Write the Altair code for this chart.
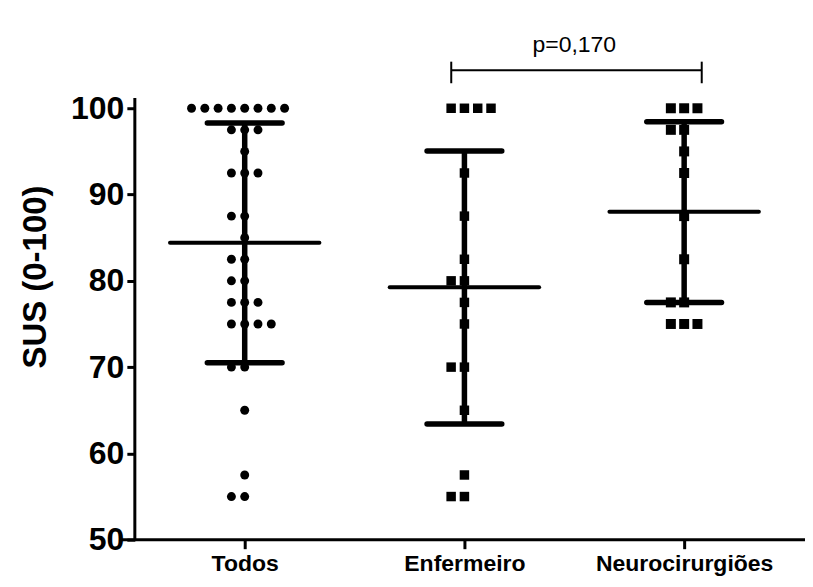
import json
import altair as alt
import pandas as pd

categories = ["Todos", "Enfermeiro", "Neurocirurgiões"]

todos = [100, 100, 100, 100, 100, 100, 100, 100,
         97.5, 97.5, 97.5, 95, 92.5, 92.5, 92.5, 87.5, 87.5, 85,
         82.5, 82.5, 80, 80, 77.5, 77.5, 77.5, 75, 75, 75, 75,
         70, 70, 65, 57.5, 55, 55]
enfermeiro = [100, 100, 100, 100, 92.5, 87.5, 82.5, 80, 80, 77.5, 75,
              70, 70, 65, 57.5, 55, 55]
neuro = [100, 100, 100, 97.5, 97.5, 95, 92.5, 87.5, 82.5,
         77.5, 77.5, 75, 75, 75]

means = [84.4, 79.25, 88.0]
sd_upper = [98.3, 95.05, 98.45]
sd_lower = [70.5, 63.4, 77.5]

p_label = "p=0,170"

# --- build tables -------------------------------------------------------
order = [0, -1, 1, 2, -2, 3, -3, -4, 4]
step = 0.0605
rows = []
for gi, (name, vals) in enumerate(zip(categories, [todos, enfermeiro, neuro])):
    seen = {}
    for v in vals:
        k = seen.get(v, 0)
        seen[v] = k + 1
        rows.append({"group": name, "value": v,
                     "x": gi + 1 + order[k] * step})
pts = pd.DataFrame(rows)

summ = pd.DataFrame({
    "group": categories,
    "idx": [1, 2, 3],
    "mean": means,
    "lo": sd_lower,
    "hi": sd_upper,
})
summ["m0"] = summ["idx"] - 0.34
summ["m1"] = summ["idx"] + 0.34
summ["c0"] = summ["idx"] - 0.17
summ["c1"] = summ["idx"] + 0.17

xscale = alt.Scale(domain=[0.5, 3.55], nice=False, zero=False)
yscale = alt.Scale(domain=[50, 111], nice=False, zero=False)

label_expr = json.dumps(categories) + "[datum.value - 1]"

xaxis = alt.Axis(values=[1, 2, 3], labelExpr=label_expr, title=None,
                 domain=False, grid=False, tickSize=9, tickWidth=3,
                 tickColor="black", labelColor="black",
                 labelFont="Liberation Sans", labelFontWeight="bold",
                 labelFontSize=23, labelPadding=4)
yaxis = alt.Axis(values=[50, 60, 70, 80, 90, 100], title="SUS (0-100)",
                 domain=False, grid=False, tickSize=8, tickWidth=3,
                 tickColor="black", labelColor="black",
                 labelFont="Liberation Sans", labelFontWeight="bold",
                 labelFontSize=32, labelPadding=3,
                 titleFont="Liberation Sans", titleFontWeight="bold",
                 titleFontSize=33, titleColor="black", titlePadding=18)

base_pts = alt.Chart(pts)
points = base_pts.mark_point(filled=True, opacity=1, color="black").encode(
    x=alt.X("x:Q", scale=xscale, axis=xaxis),
    y=alt.Y("value:Q", scale=yscale, axis=yaxis),
    shape=alt.Shape("group:N", scale=alt.Scale(domain=categories,
                    range=["circle", "square", "square"]), legend=None),
    size=alt.Size("group:N", scale=alt.Scale(domain=categories,
                  range=[80, 100, 100]), legend=None),
)

sb = alt.Chart(summ)
vert = sb.mark_rule(color="black", strokeWidth=5.5).encode(
    x="idx:Q", y="lo:Q", y2="hi:Q")
cap_hi = sb.mark_rule(color="black", strokeWidth=5.5, strokeCap="round").encode(
    x="c0:Q", x2="c1:Q", y="hi:Q")
cap_lo = sb.mark_rule(color="black", strokeWidth=5.5, strokeCap="round").encode(
    x="c0:Q", x2="c1:Q", y="lo:Q")
mean_line = sb.mark_rule(color="black", strokeWidth=4, strokeCap="round").encode(
    x="m0:Q", x2="m1:Q", y="mean:Q")

# axis lines
ax_df = pd.DataFrame({"x0": [0.5, 0.44], "x1": [0.5, 3.62],
                      "y0": [50, 50], "y1": [101.2, 50]})
axes = alt.Chart(ax_df).mark_rule(color="black", strokeWidth=3).encode(
    x="x0:Q", x2="x1:Q", y="y0:Q", y2="y1:Q")

# significance bracket
br_df = pd.DataFrame({"x0": [1.94, 1.94, 3.08], "x1": [3.08, 1.94, 3.08],
                      "y0": [104.4, 102.9, 102.9], "y1": [104.4, 105.4, 105.4]})
bracket = alt.Chart(br_df).mark_rule(color="black", strokeWidth=2).encode(
    x="x0:Q", x2="x1:Q", y="y0:Q", y2="y1:Q")
ptext = alt.Chart(pd.DataFrame({"x": [2.5], "y": [107.3], "t": [p_label]})).mark_text(
    font="Liberation Sans", fontSize=23, color="black", baseline="middle",
    align="center").encode(x="x:Q", y="y:Q", text="t:N")

chart = alt.layer(axes, vert, cap_hi, cap_lo, mean_line, points, bracket, ptext).properties(
    width=671, height=527,
    background="white",
    autosize=alt.AutoSizeParams(type="none"),
    padding={"left": 127, "top": 5, "right": 0, "bottom": 40},
).configure_view(stroke=None)

chart.save("out.html", embed_options={"renderer": "svg", "actions": False})
